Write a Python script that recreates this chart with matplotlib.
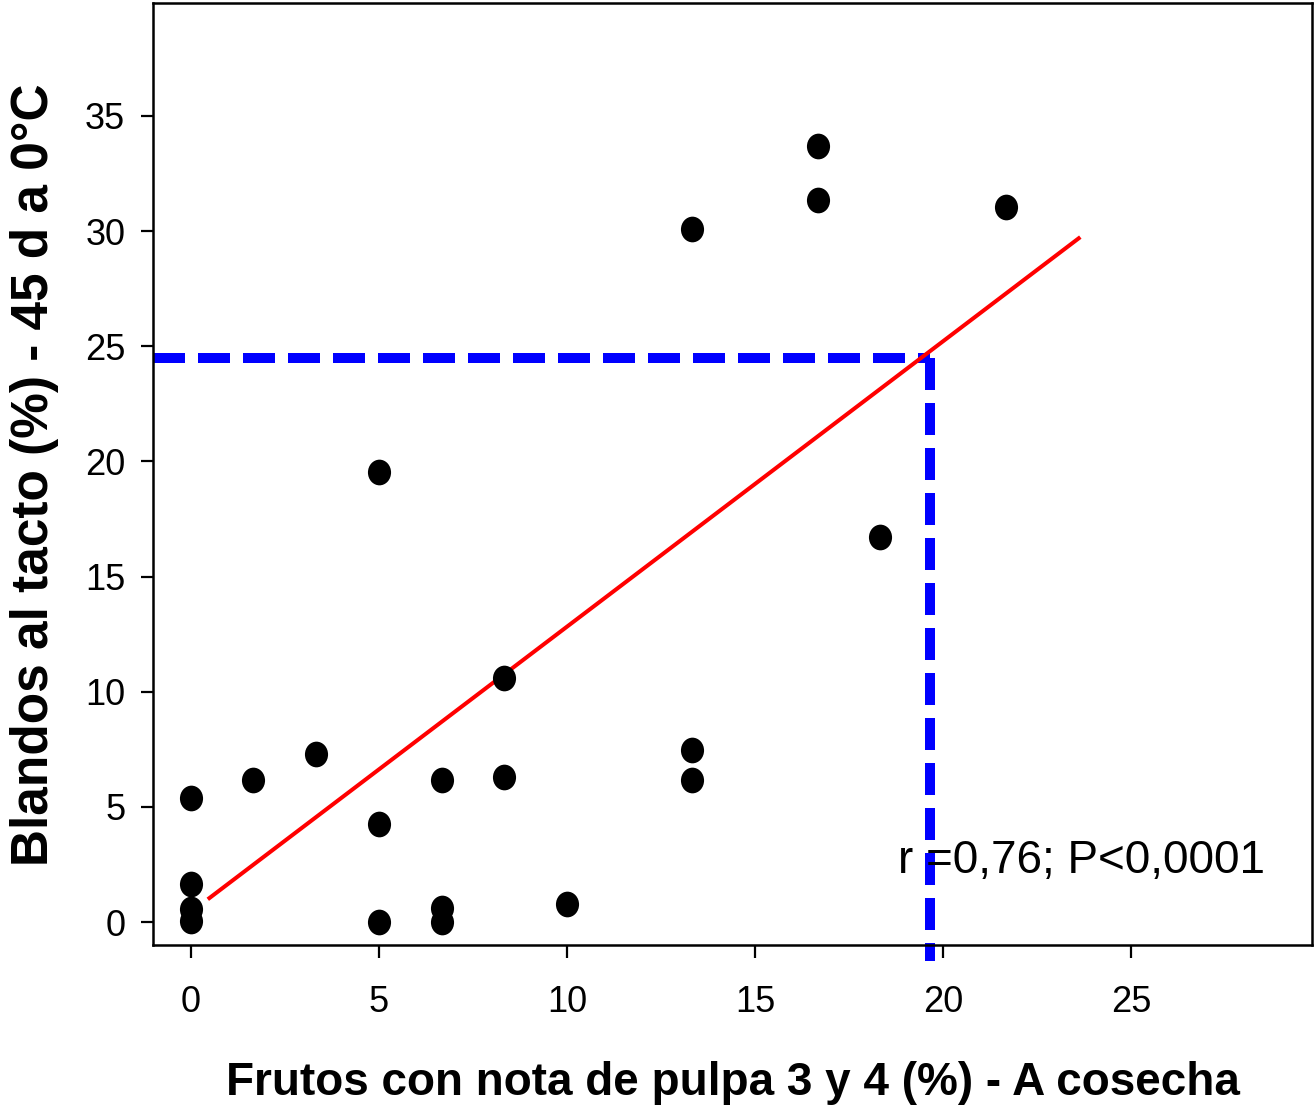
import numpy as np
import matplotlib
matplotlib.use("Agg")
import matplotlib.pyplot as plt
from matplotlib.path import Path

# === DATA ===
frutos_pct = [0, 0, 0, 0, 1.67, 3.33, 5, 5, 5, 6.67, 6.67, 6.67,
              8.33, 8.33, 10, 13.33, 13.33, 13.33, 16.67, 16.67, 18.33, 21.67]
blandos_pct = [5.4, 1.65, 0.55, 0.05, 6.15, 7.3, 19.55, 4.25, 0.0, 6.15, 0.6, 0.0,
               10.6, 6.3, 0.8, 30.1, 7.45, 6.15, 33.7, 31.35, 16.7, 31.05]

# fitted line and threshold
FIT_X = [0.5, 23.6]
SLOPE, INTERCEPT = 1.24, 0.42
THRESH_X, THRESH_Y = 19.65, 24.5
STATS_TEXT = "r =0,76; P<0,0001"

plt.rcParams["font.family"] = ["Liberation Sans", "DejaVu Sans"]

# slightly tall ellipse marker
circ = Path.unit_circle()
oval = Path(circ.vertices * np.array([0.9, 1.0]), circ.codes)

fig = plt.figure(figsize=(13.14, 11.10), dpi=100)
ax = fig.add_axes([0.1164, 0.1486, 0.8821, 0.8487])

# threshold dashes
ax.plot([-1, THRESH_X], [THRESH_Y, THRESH_Y], color="#0000ff", lw=7.2,
        dashes=(3.2, 1.3), solid_capstyle="butt", dash_capstyle="butt", zorder=2)
ax.plot([THRESH_X, THRESH_X], [THRESH_Y, -1.7], color="#0000ff", lw=7.2,
        dashes=(3.2, 1.3), solid_capstyle="butt", dash_capstyle="butt", zorder=2,
        clip_on=False)

fx = np.array(FIT_X)
ax.plot(fx, SLOPE * fx + INTERCEPT, color="#ff0000", lw=2.9, zorder=3)

ax.scatter(frutos_pct, blandos_pct, marker=oval, s=18.5 ** 2, color="black",
           zorder=4, linewidths=0)

ax.text(18.8, 2.65, STATS_TEXT, fontsize=33, va="center", ha="left", zorder=5)

ax.set_xlim(-1, 29.8)
ax.set_ylim(-1, 39.9)
ax.set_xticks([0, 5, 10, 15, 20, 25])
ax.set_yticks([0, 5, 10, 15, 20, 25, 30, 35])
ax.tick_params(axis="both", direction="out", length=9, width=1.6, labelsize=26)
ax.tick_params(axis="x", pad=20)
ax.tick_params(axis="y", pad=11)

for sp in ax.spines.values():
    sp.set_linewidth(1.8)

fig.text(0.558, 0.0243, "Frutos con nota de pulpa 3 y 4 (%) - A cosecha",
         fontsize=33, fontweight="bold", ha="center", va="center")
fig.text(0.0266, 0.572, "Blandos al tacto (%) - 45 d a 0°C",
         fontsize=37, fontweight="bold", ha="center", va="center", rotation=90)

fig.savefig("out.png", dpi=100)
